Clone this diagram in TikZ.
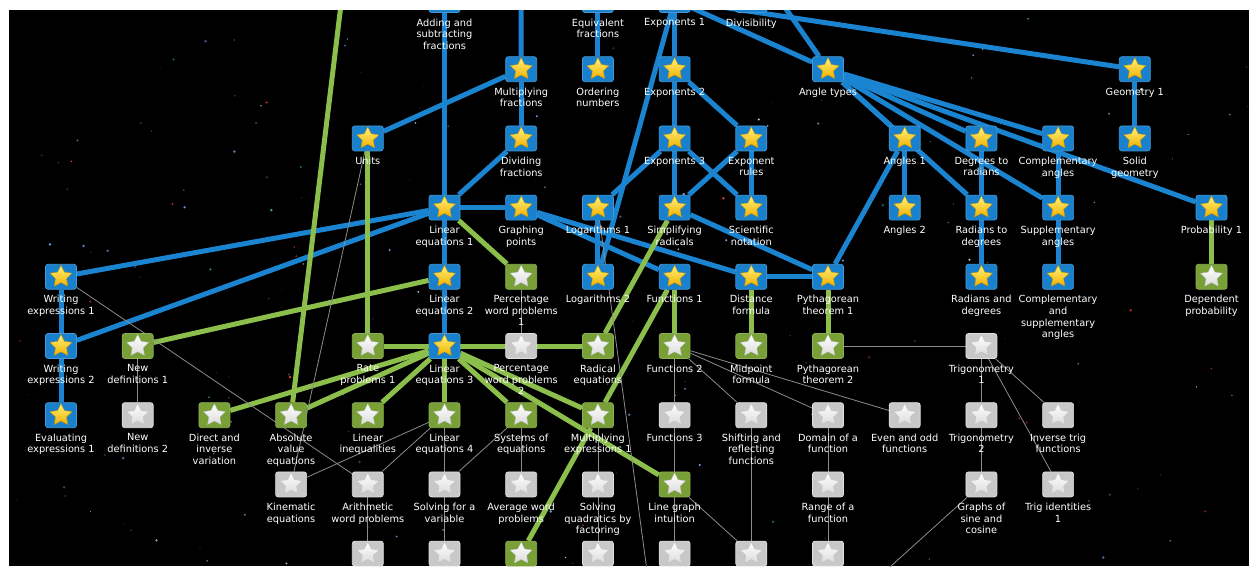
\documentclass[tikz,border=0pt]{standalone}
\usepackage{fontspec}
\setsansfont{DejaVu Sans}
\usetikzlibrary{shapes.geometric}

\definecolor{boxblue}{HTML}{1880CC}
\definecolor{lineblue}{HTML}{1B84D0}
\definecolor{boxgreen}{HTML}{78A037}
\definecolor{linegreen}{HTML}{8CBE4B}
\definecolor{boxgray}{HTML}{C8C8C8}
\definecolor{linegray}{HTML}{8C8C8C}
\definecolor{staryellow}{HTML}{FFF27A}
\definecolor{starorange}{HTML}{F2B000}
\definecolor{dotblue}{HTML}{7FB2FF}
\definecolor{dotred}{HTML}{E8402A}
\definecolor{dotwhite}{HTML}{E8F0FF}
\definecolor{dotgreen}{HTML}{3FB070}

\pgfdeclarelayer{back}
\pgfdeclarelayer{edges}
\pgfsetlayers{back,edges,main}

\tikzset{
  skillbox/.style={rectangle, rounded corners=2.5pt, minimum width=31pt,
    minimum height=25pt, inner sep=0pt, line width=0.7pt},
  bluebox/.style={skillbox, fill=boxblue, draw=boxblue!80!white},
  greenbox/.style={skillbox, fill=boxgreen, draw=boxgreen!85!white},
  graybox/.style={skillbox, fill=boxgray, draw=boxgray!55!white},
  starshape/.style={star, star points=5, star point ratio=2.0,
    minimum size=23pt, inner sep=0pt},
  bluestar/.style={starshape, top color=staryellow, bottom color=starorange,
    draw=starorange!85!black, line width=0.4pt},
  greenstar/.style={starshape, top color=white, bottom color=white!86!black,
    draw=white!75!black, line width=0.3pt},
  graystar/.style={greenstar},
  lbl/.style={text=white, font=\sffamily\fontsize{9.8}{11.6}\selectfont,
    align=center, inner sep=0pt},
  blueline/.style={draw=lineblue, line width=5pt},
  greenline/.style={draw=linegreen, line width=5pt},
  grayline/.style={draw=linegray, line width=0.8pt},
}

% \skill{name}{kind}{column}{row}{label}
\newcommand\skill[5]{%
  \node[#2box] (#1) at ({61+76.7*#3},{69.2*#4}) {};
  \node[#2star] (#1-s) at (#1.center) {};
  \node[lbl, anchor=north] (#1-t) at ([yshift=-5.5pt]#1.south) {#5};
}

\begin{document}
\begin{tikzpicture}[x=1pt, y=-1pt]
\useasboundingbox (0,0) rectangle (1249,566);

% night sky
\begin{pgfonlayer}{back}
  \fill[black] (9,10) rectangle (1249,566);
  \pgfmathsetseed{4242}
  \foreach \k in {1,...,180}{
    \pgfmathsetmacro\px{9+1240*rnd}
    \pgfmathsetmacro\py{10+556*rnd}
    \pgfmathsetmacro\pr{0.5+0.9*rnd}
    \pgfmathtruncatemacro\pb{20+80*rnd}
    \pgfmathtruncatemacro\pc{int(5*rnd)}
    \ifcase\pc \def\dc{dotblue}\or \def\dc{dotred}\or \def\dc{dotwhite}\or
      \def\dc{dotgreen}\else \def\dc{dotblue}\fi
    \fill[\dc!\pb!black] (\px,\py) circle[radius=\pr pt];
  }
\end{pgfonlayer}

\begin{scope}
\clip (9,10) rectangle (1249,566);
% row 0
\skill{add}{blue}{5}{0}{Adding and\\subtracting\\fractions}
\skill{eqf}{blue}{7}{0}{Equivalent\\fractions}
\skill{exp1}{blue}{8}{0}{Exponents 1}
\skill{divis}{blue}{9}{0}{Divisibility}
% row 1
\skill{mulf}{blue}{6}{1}{Multiplying\\fractions}
\skill{ordn}{blue}{7}{1}{Ordering\\numbers}
\skill{exp2}{blue}{8}{1}{Exponents 2}
\skill{angt}{blue}{10}{1}{Angle types}
\skill{geo1}{blue}{14}{1}{Geometry 1}
% row 2
\skill{units}{blue}{4}{2}{Units}
\skill{divf}{blue}{6}{2}{Dividing\\fractions}
\skill{exp3}{blue}{8}{2}{Exponents 3}
\skill{exprl}{blue}{9}{2}{Exponent\\rules}
\skill{ang1}{blue}{11}{2}{Angles 1}
\skill{dtr}{blue}{12}{2}{Degrees to\\radians}
\skill{comp}{blue}{13}{2}{Complementary\\angles}
\skill{solid}{blue}{14}{2}{Solid\\geometry}
% row 3
\skill{le1}{blue}{5}{3}{Linear\\equations 1}
\skill{gp}{blue}{6}{3}{Graphing\\points}
\skill{log1}{blue}{7}{3}{Logarithms 1}
\skill{simp}{blue}{8}{3}{Simplifying\\radicals}
\skill{sci}{blue}{9}{3}{Scientific\\notation}
\skill{ang2}{blue}{11}{3}{Angles 2}
\skill{rtd}{blue}{12}{3}{Radians to\\degrees}
\skill{supp}{blue}{13}{3}{Supplementary\\angles}
\skill{prob1}{blue}{15}{3}{Probability 1}
% row 4
\skill{we1}{blue}{0}{4}{Writing\\expressions 1}
\skill{le2}{blue}{5}{4}{Linear\\equations 2}
\skill{pwp1}{green}{6}{4}{Percentage\\word problems\\1}
\skill{log2}{blue}{7}{4}{Logarithms 2}
\skill{fn1}{blue}{8}{4}{Functions 1}
\skill{dist}{blue}{9}{4}{Distance\\formula}
\skill{pyth1}{blue}{10}{4}{Pythagorean\\theorem 1}
\skill{rad}{blue}{12}{4}{Radians and\\degrees}
\skill{csa}{blue}{13}{4}{Complementary\\and\\supplementary\\angles}
\skill{dep}{green}{15}{4}{Dependent\\probability}
% row 5
\skill{we2}{blue}{0}{5}{Writing\\expressions 2}
\skill{nd1}{green}{1}{5}{New\\definitions 1}
\skill{rate1}{green}{4}{5}{Rate\\problems 1}
\skill{le3}{blue}{5}{5}{Linear\\equations 3}
\skill{pwp2}{gray}{6}{5}{Percentage\\word problems\\2}
\skill{radeq}{green}{7}{5}{Radical\\equations}
\skill{fn2}{green}{8}{5}{Functions 2}
\skill{mid}{green}{9}{5}{Midpoint\\formula}
\skill{pyth2}{green}{10}{5}{Pythagorean\\theorem 2}
\skill{trig1}{gray}{12}{5}{Trigonometry\\1}
% row 6
\skill{eval1}{blue}{0}{6}{Evaluating\\expressions 1}
\skill{nd2}{gray}{1}{6}{New\\definitions 2}
\skill{dirv}{green}{2}{6}{Direct and\\inverse\\variation}
\skill{absv}{green}{3}{6}{Absolute\\value\\equations}
\skill{lineq}{green}{4}{6}{Linear\\inequalities}
\skill{le4}{green}{5}{6}{Linear\\equations 4}
\skill{sys}{green}{6}{6}{Systems of\\equations}
\skill{mulx}{green}{7}{6}{Multiplying\\expressions 1}
\skill{fn3}{gray}{8}{6}{Functions 3}
\skill{shift}{gray}{9}{6}{Shifting and\\reflecting\\functions}
\skill{dom}{gray}{10}{6}{Domain of a\\function}
\skill{even}{gray}{11}{6}{Even and odd\\functions}
\skill{trig2}{gray}{12}{6}{Trigonometry\\2}
\skill{inv}{gray}{13}{6}{Inverse trig\\functions}
% row 7
\skill{kin}{gray}{3}{7}{Kinematic\\equations}
\skill{arith}{gray}{4}{7}{Arithmetic\\word problems}
\skill{solv}{gray}{5}{7}{Solving for a\\variable}
\skill{avg}{gray}{6}{7}{Average word\\problems}
\skill{quad}{gray}{7}{7}{Solving\\quadratics by\\factoring}
\skill{lgi}{green}{8}{7}{Line graph\\intuition}
\skill{range}{gray}{10}{7}{Range of a\\function}
\skill{graphs}{gray}{12}{7}{Graphs of\\sine and\\cosine}
\skill{trigid}{gray}{13}{7}{Trig identities\\1}
% row 8
\skill{bfour}{gray}{4}{8}{}
\skill{bfive}{gray}{5}{8}{}
\skill{bsix}{green}{6}{8}{}
\skill{bseven}{gray}{7}{8}{}
\skill{beight}{gray}{8}{8}{}
\skill{bnine}{gray}{9}{8}{}
\skill{bten}{gray}{10}{8}{}
\end{scope}

% free ends of links that leave the visible area
\coordinate (upA) at (343,-12);
\coordinate (upB) at (521,-30);
\coordinate (upC) at (540,-16);
\coordinate (upD) at (770,-14);
\coordinate (downE) at (655,630);
\coordinate (downF) at (829,622);

\begin{pgfonlayer}{edges}
  \clip (9,10) rectangle (1249,566);
  % mastered links
  \foreach \a/\b in {add/le1, upB/mulf, mulf/divf, mulf/units, divf/le1,
      eqf/ordn, exp1/exp2, upC/exp1, exp1/geo1, exp1/angt, upD/angt,
      exp1/log2, exp2/exp3, exp2/exprl, exp3/simp, exp3/sci, exp3/log1,
      exprl/sci, exprl/simp, log1/log2, le1/gp, le1/we1, le1/we2, le1/le2,
      le2/le3, gp/fn1, gp/dist, simp/pyth1, dist/pyth1, pyth1/ang1,
      angt/ang1, angt/dtr, angt/comp, angt/rtd, angt/supp, angt/prob1,
      geo1/solid, ang1/ang2, dtr/rtd, rtd/rad, comp/supp, supp/csa,
      we1/we2, we2/eval1}
    \draw[blueline] (\a) -- (\b);
  % practised links
  \foreach \a/\b in {upA/absv, units/rate1, le1/pwp1, le2/nd1, le3/rate1,
      le3/radeq, le3/dirv, le3/absv, le3/lineq, le3/le4, le3/sys,
      le3/mulx, le3/lgi, simp/radeq, fn1/fn2, fn1/mulx, mulx/bsix,
      dist/mid, pyth1/pyth2, prob1/dep}
    \draw[greenline] (\a) -- (\b);
  % links still to explore
  \foreach \a/\b in {units/kin, we1/arith, nd1/nd2, pwp1/pwp2, log1/downE,
      le4/kin, le4/arith, le4/solv, sys/solv, sys/avg, mulx/quad,
      quad/bseven, solv/bfive, arith/bfour, fn2/fn3, fn2/shift, fn2/dom,
      fn2/even, fn3/lgi, lgi/beight, lgi/bnine, shift/bnine, dom/range,
      range/bten, pyth2/trig1, trig1/trig2, trig1/inv, trig1/trigid,
      trig2/graphs, graphs/downF}
    \draw[grayline] (\a) -- (\b);
\end{pgfonlayer}
\end{tikzpicture}
\end{document}
